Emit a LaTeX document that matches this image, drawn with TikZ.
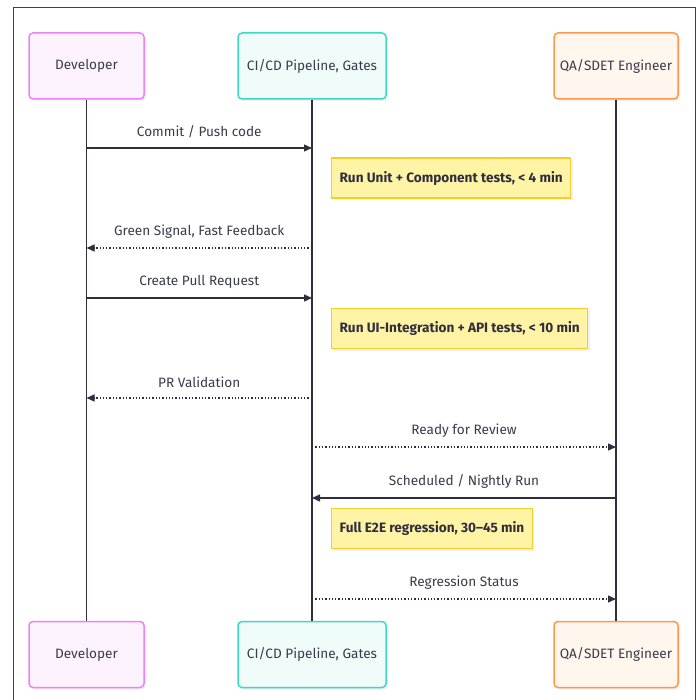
\documentclass[tikz,border=0pt]{standalone}
\usepackage{fontspec}
\setmainfont{Fira Sans}
\usepackage{xcolor}
\usetikzlibrary{positioning,calc,arrows.meta,shadows}

\definecolor{inkc}{HTML}{2E2E3E}
\definecolor{txtc}{HTML}{3A3A4A}
\definecolor{devline}{HTML}{EE82F5}
\definecolor{devfill}{HTML}{FDF3FE}
\definecolor{ciline}{HTML}{3FD9C2}
\definecolor{cifill}{HTML}{F0FCFA}
\definecolor{qaline}{HTML}{FB9A4E}
\definecolor{qafill}{HTML}{FFF6EE}
\definecolor{noteline}{HTML}{F5CE2C}
\definecolor{notefill}{HTML}{FFF3A6}

\begin{document}
\begin{tikzpicture}[x=1pt, y=-1pt,
    actor/.style={draw, line width=1.5pt, rounded corners=4pt, minimum height=66pt, align=center,
        text=txtc, font=\fontsize{13.6}{16}\selectfont,
        drop shadow={shadow xshift=2pt, shadow yshift=-2pt, opacity=0.12}},
    dev box/.style={actor, draw=devline, fill=devfill, minimum width=115pt},
    ci box/.style={actor, draw=ciline, fill=cifill, minimum width=148pt},
    qa box/.style={actor, draw=qaline, fill=qafill, minimum width=124pt},
    note/.style={draw=noteline, fill=notefill, line width=1.2pt, minimum height=40pt, inner xsep=8pt,
        text=inkc, font=\fontsize{13.6}{16}\selectfont\bfseries, anchor=west,
        drop shadow={shadow xshift=2pt, shadow yshift=-2pt, opacity=0.12}},
    life/.style={draw=inkc, line width=1.1pt},
    msg/.style={draw=inkc, line width=1.3pt, -{Triangle[length=8pt, width=7pt]}},
    reply/.style={msg, dotted},
    lbl/.style={text=txtc, font=\fontsize{13.6}{16}\selectfont}]
    \useasboundingbox (0,0) rectangle (699,700);
    % outer frame (open at the bottom)
    \draw[line width=0.8pt, draw=black!75] (13,710) -- (13,7) -- (695,7) -- (695,710);

    % participants, top and bottom
    \node[dev box] (dev) at (86.5,66) {Developer};
    \node[ci box] (ci) at (312,66) {CI/CD Pipeline, Gates};
    \node[qa box] (qa) at (616,66) {QA/SDET Engineer};
    \node[dev box] (devB) at (86.5,654.5) {Developer};
    \node[ci box] (ciB) at (312,654.5) {CI/CD Pipeline, Gates};
    \node[qa box] (qaB) at (616,654.5) {QA/SDET Engineer};

    \draw[life] (dev) -- (devB);
    \draw[life] (ci) -- (ciB);
    \draw[life] (qa) -- (qaB);

    % messages
    \draw[msg] (dev |- 0,148) -- (ci |- 0,148) node[lbl, midway, above=6pt] (m1) {Commit / Push code};
    \node[note] (n1) at (331,178) {Run Unit + Component tests, < 4 min};
    \draw[reply] (ci |- 0,248) -- (dev |- 0,248) node[lbl, midway, above=6pt] (m2) {Green Signal, Fast Feedback};
    \draw[msg] (dev |- 0,298) -- (ci |- 0,298) node[lbl, midway, above=6pt] (m3) {Create Pull Request};
    \node[note] (n2) at (331,328.5) {Run UI-Integration + API tests, < 10 min};
    \draw[reply] (ci |- 0,398) -- (dev |- 0,398) node[lbl, midway, above=6pt] (m4) {PR Validation};
    \draw[reply] (ci |- 0,447) -- (qa |- 0,447) node[lbl, midway, above=6pt] (m5) {Ready for Review};
    \draw[msg] (qa |- 0,498) -- (ci |- 0,498) node[lbl, midway, above=6pt] (m6) {Scheduled / Nightly Run};
    \node[note] (n3) at (331,528.5) {Full E2E regression, 30--45 min};
    \draw[reply] (ci |- 0,599) -- (qa |- 0,599) node[lbl, midway, above=6pt] (m7) {Regression Status};
\end{tikzpicture}
\end{document}
